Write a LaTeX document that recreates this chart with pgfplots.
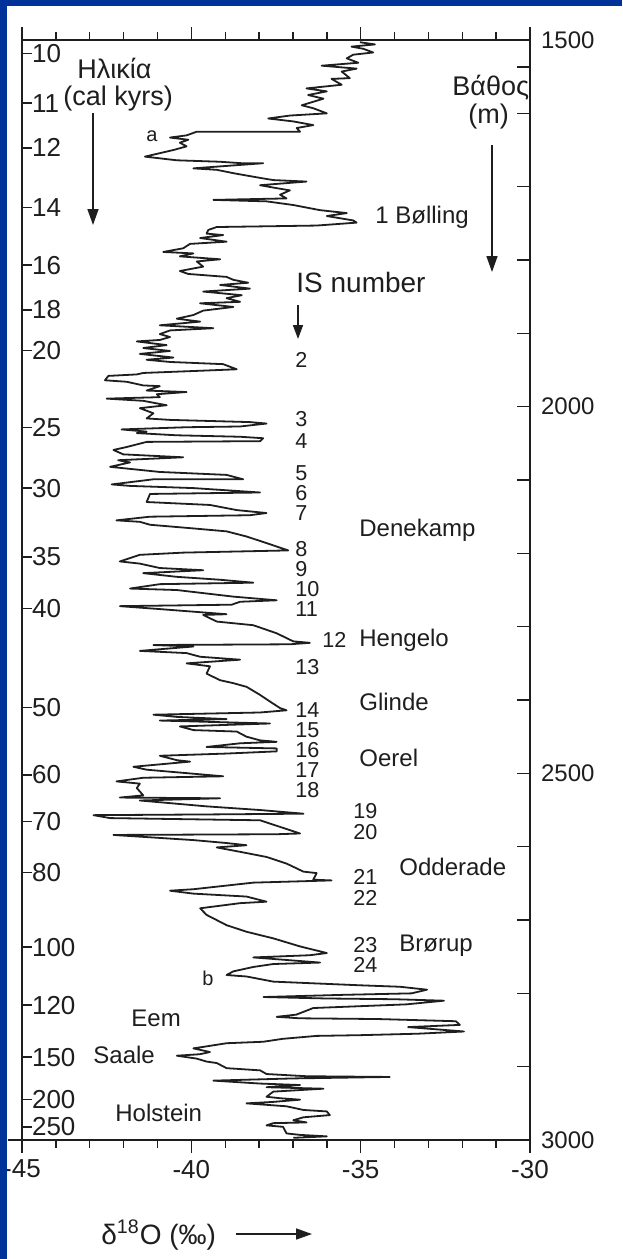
\documentclass[border=0pt]{standalone}
\usepackage{fontspec}
\setmainfont{Liberation Sans}
\usepackage{pgfplots}
\pgfplotsset{compat=1.18}
\usetikzlibrary{arrows.meta}
\definecolor{slideblue}{HTML}{003399}
\definecolor{ink}{HTML}{1E1E1E}
\newcommand\labfont{\fontsize{12}{14}\selectfont}
\newcommand\numfont{\fontsize{10.8}{12}\selectfont}
\newcommand\ttlfont{\fontsize{13.5}{16}\selectfont}

\begin{document}
\begin{tikzpicture}
\fill[white] (0,0) rectangle (311pt,-629.5pt);
\path[use as bounding box] (0,0) rectangle (311pt,-629.5pt);

% depth axis (right) and delta-18O axis (bottom)
\begin{axis}[
    at={(11pt,-570pt)}, anchor=south west,
    width=254pt, height=550pt, scale only axis,
    xmin=-45, xmax=-30, ymin=1500, ymax=3000, y dir=reverse,
    axis line style={ink, line width=0.7pt},
    every tick/.style={ink, line width=0.7pt},
    xtick={-45,-40,-35,-30}, xticklabels={-45,-40,-35,-30},
    minor xtick={-44,-43,-42,-41,-39,-38,-37,-36,-34,-33,-32,-31},
    xtick pos=both, xtick align=outside,
    ytick={1500,1537,1600,1700,1800,1900,2000,2100,2200,2300,2400,2500,2600,2700,2800,2900,3000},
    yticklabels={1500,,,,,,2000,,,,,2500,,,,,3000},
    ytick pos=right, yticklabel pos=right, ytick align=inside,
    major tick length=6.5pt, minor tick length=4pt,
    xticklabel style={font=\fontsize{13}{15}\selectfont, text=ink},
    yticklabel style={font=\fontsize{12}{14}\selectfont, text=ink, anchor=west, xshift=2pt},
]
\addplot[ink, line width=0.9pt, line join=round] coordinates {
(-35.02,1503) (-34.58,1506) (-35.27,1509) (-34.92,1512) (-34.63,1517) (-35.22,1520)
(-35.41,1525) (-35.07,1531) (-36.15,1535) (-35.12,1539) (-35.56,1543) (-35.32,1552)
(-35.86,1553) (-35.56,1561) (-36.60,1566) (-36.00,1570) (-36.55,1575) (-36.10,1580)
(-36.74,1589) (-36.40,1593) (-36.00,1600) (-37.09,1603) (-37.73,1607) (-36.99,1611)
(-36.40,1616) (-36.89,1620) (-36.79,1625) (-39.84,1625) (-40.14,1630) (-40.63,1633)
(-40.09,1636) (-40.34,1640) (-40.14,1645) (-40.53,1650) (-41.37,1659) (-40.43,1664)
(-39.15,1666) (-38.51,1668) (-37.88,1668) (-38.76,1671) (-39.94,1675) (-39.25,1677)
(-38.71,1682) (-37.97,1688) (-37.58,1691) (-36.60,1693) (-37.97,1698) (-37.48,1702)
(-37.09,1705) (-37.38,1711) (-37.19,1716) (-39.35,1718) (-37.78,1720)
(-36.99,1725) (-36.20,1732) (-35.41,1736) (-36.00,1740) (-35.22,1746) (-35.12,1749)
(-36.30,1753) (-39.25,1755) (-39.50,1759) (-39.55,1764) (-39.06,1766) (-39.74,1770)
(-38.96,1775) (-40.04,1778) (-40.24,1784) (-40.83,1789) (-39.94,1791) (-40.34,1795)
(-39.15,1799) (-39.84,1802) (-39.65,1809) (-40.34,1815) (-40.09,1819) (-38.96,1823)
(-38.76,1827) (-38.32,1831) (-39.15,1834) (-38.27,1839) (-39.65,1843) (-38.51,1848)
(-38.96,1852) (-38.56,1857) (-39.74,1859) (-38.76,1864) (-39.65,1869) (-39.94,1875)
(-40.43,1880) (-39.74,1884) (-40.93,1889) (-39.35,1893) (-40.63,1896) (-40.93,1901)
(-40.63,1905) (-40.93,1909) (-41.61,1911) (-40.73,1916) (-41.42,1920) (-40.63,1924)
(-41.52,1928) (-40.53,1933) (-41.32,1936)
(-40.63,1939) (-39.06,1942) (-38.66,1949) (-39.74,1951) (-41.42,1954) (-41.61,1956)
(-42.45,1958) (-42.55,1964) (-41.91,1966) (-41.42,1971) (-40.93,1972) (-41.32,1978)
(-40.14,1980) (-41.02,1983) (-40.93,1987) (-42.50,1989) (-41.42,1992) (-40.73,1998)
(-41.52,2002) (-41.12,2009) (-41.32,2016) (-40.63,2018) (-38.27,2021) (-37.78,2023)
(-38.56,2027) (-40.14,2028) (-42.06,2031) (-41.32,2034) (-41.61,2036) (-40.43,2039)
(-38.56,2041) (-37.88,2043) (-37.97,2047) (-41.32,2048) (-41.91,2055) (-42.30,2059)
(-42.01,2065) (-40.24,2069) (-42.16,2073) (-41.81,2076) (-42.40,2082) (-40.93,2089)
(-38.96,2093) (-38.47,2099) (-41.12,2099) (-42.35,2106) (-41.81,2108) (-39.94,2111)
(-37.97,2117) (-41.22,2119) (-41.32,2130) (-39.45,2134) (-38.66,2141) (-37.78,2145)
(-38.27,2148) (-41.22,2150) (-42.21,2155) (-41.52,2157) (-41.22,2161)
(-39.94,2166) (-38.96,2170) (-38.37,2177) (-37.78,2186) (-37.14,2196) (-40.24,2199)
(-41.52,2202) (-42.11,2211) (-41.52,2214) (-40.93,2220) (-39.65,2223) (-41.42,2227)
(-40.43,2232) (-39.15,2236) (-38.17,2240) (-40.93,2242) (-41.81,2248) (-40.43,2250)
(-38.76,2259) (-37.48,2264) (-38.56,2266) (-38.81,2270) (-42.11,2272) (-40.93,2276)
(-38.96,2283) (-39.65,2284) (-39.25,2293) (-38.17,2298) (-37.48,2309) (-36.99,2320)
(-36.50,2322) (-37.09,2324) (-41.12,2325) (-39.94,2327) (-41.52,2333) (-40.14,2336)
(-39.74,2341) (-38.56,2345) (-40.14,2350) (-39.45,2354) (-39.55,2364) (-39.15,2373)
(-38.76,2377) (-38.37,2382) (-37.97,2393) (-37.68,2402) (-37.38,2411) (-37.19,2414)
(-37.97,2417) (-41.12,2420) (-40.43,2423) (-38.96,2426) (-40.93,2428) (-37.68,2432)
(-40.34,2436) (-39.94,2441) (-38.66,2443) (-38.37,2450) (-37.97,2455) (-37.48,2457)
(-38.56,2459) (-39.55,2464) (-37.48,2466) (-37.48,2470) (-38.96,2473) (-40.93,2476)
(-40.43,2482) (-40.04,2484) (-41.71,2491) (-41.32,2495) (-39.06,2504) (-41.42,2506)
(-42.21,2511) (-41.52,2514) (-41.61,2520) (-41.42,2530) (-42.11,2533) (-39.15,2534)
(-41.52,2537) (-39.55,2545) (-37.97,2550) (-36.69,2555) (-39.45,2556) (-42.89,2557)
(-42.40,2561) (-37.97,2564) (-37.38,2573) (-36.79,2582) (-37.48,2583) (-42.30,2584)
(-39.94,2591) (-38.96,2595) (-38.37,2598)
(-39.25,2601) (-38.56,2607) (-37.78,2614) (-37.19,2623) (-36.69,2634) (-36.30,2636)
(-36.40,2645) (-35.86,2646) (-38.17,2649) (-39.94,2658) (-40.63,2660) (-39.94,2664)
(-38.37,2668) (-37.78,2675) (-38.56,2677) (-39.74,2684) (-39.55,2693) (-38.96,2707)
(-38.37,2716) (-37.58,2725) (-36.79,2736) (-36.00,2745) (-36.50,2748) (-38.17,2751)
(-36.20,2758) (-37.58,2760) (-38.17,2764) (-38.76,2770) (-38.96,2775) (-38.37,2777)
(-37.58,2784) (-35.02,2789) (-33.84,2791)
(-33.04,2795) (-33.50,2800) (-35.50,2802) (-37.87,2805) (-36.00,2807) (-34.00,2808)
(-32.54,2810) (-33.65,2815) (-36.40,2820) (-36.90,2829) (-37.48,2832) (-36.80,2834)
(-34.50,2835) (-32.19,2838) (-32.07,2843) (-33.60,2846) (-31.95,2852) (-33.30,2855)
(-35.00,2857) (-36.30,2858) (-37.30,2862)
(-37.88,2866) (-38.96,2868) (-39.65,2873) (-39.94,2875) (-39.45,2880) (-39.75,2883)
(-40.43,2885) (-39.84,2889) (-39.55,2893) (-39.25,2895) (-38.96,2902) (-37.97,2905)
(-37.78,2910) (-36.60,2913) (-34.14,2914) (-36.99,2916) (-39.35,2919) (-37.97,2923)
(-36.79,2925) (-37.78,2928) (-36.10,2930) (-37.58,2934) (-37.78,2941) (-37.38,2943)
(-36.79,2945) (-37.58,2948) (-38.37,2950) (-37.19,2954) (-36.69,2959) (-36.00,2961)
(-35.91,2966) (-36.69,2969) (-36.99,2973) (-36.60,2976) (-37.58,2977) (-37.78,2980)
(-37.29,2982) (-37.19,2991) (-36.79,2993) (-36.00,2995) (-36.99,2997)
};
\end{axis}

% age axis (left), ticks placed at the depth of each age
\begin{axis}[
    at={(11pt,-570pt)}, anchor=south west,
    width=254pt, height=550pt, scale only axis,
    xmin=-45, xmax=-30, ymin=1500, ymax=3000, y dir=reverse,
    hide x axis, axis y line*=left,
    axis line style={ink, line width=0.7pt},
    every tick/.style={ink, line width=0.7pt},
    ytick={1518,1586,1647,1728,1807,1868,1923,2028,2111,2205,2275,2410,2502,2566,2635,2737,2816,2887,2945,2982},
    yticklabels={10,11,12,14,16,18,20,25,30,35,40,50,60,70,80,100,120,150,200,250},
    ytick align=inside, major tick length=5pt,
    yticklabel style={font=\fontsize{13}{15}\selectfont, text=ink, anchor=west, xshift=1.5pt},
]
\addplot[draw=none] coordinates {(-40,2000)};
\end{axis}

\begin{scope}[x=0.5pt, y=-0.5pt, every node/.style={inner sep=0pt, anchor=west, text=ink}]
\draw[ink, line width=0.7pt] (8,1140) -- (22,1140);
\node[font=\ttlfont] at (77,68) {Ηλικία};
\node[font=\ttlfont] at (63,99) {(cal kyrs)};
\node[font=\ttlfont] at (452,88) {Βάθος};
\node[font=\ttlfont] at (468,117) {(m)};
\node[font=\fontsize{10}{12}\selectfont] at (146,136) {a};
\node[font=\fontsize{10}{12}\selectfont] at (202,978) {b};
\node[font=\labfont] at (375,217) {1 Bølling};
\node[font=\fontsize{14}{16}\selectfont] at (296,282) {IS number};
\node[font=\labfont] at (359,530) {Denekamp};
\node[font=\labfont] at (359,640) {Hengelo};
\node[font=\labfont] at (359,702) {Glinde};
\node[font=\labfont] at (359,758) {Oerel};
\node[font=\labfont] at (399,867) {Odderade};
\node[font=\labfont] at (399,946) {Brørup};
\node[font=\labfont] at (131,1018) {Eem};
\node[font=\labfont] at (93,1055) {Saale};
\node[font=\labfont] at (115,1113) {Holstein};
\node[font=\numfont] at (295,360) {2};
\node[font=\numfont] at (295,419) {3};
\node[font=\numfont] at (295,441) {4};
\node[font=\numfont] at (295,473) {5};
\node[font=\numfont] at (295,493) {6};
\node[font=\numfont] at (295,513) {7};
\node[font=\numfont] at (295,549) {8};
\node[font=\numfont] at (295,569) {9};
\node[font=\numfont] at (295,589) {10};
\node[font=\numfont] at (295,609) {11};
\node[font=\numfont] at (322,640) {12};
\node[font=\numfont] at (295,667) {13};
\node[font=\numfont] at (295,710) {14};
\node[font=\numfont] at (295,730) {15};
\node[font=\numfont] at (295,750) {16};
\node[font=\numfont] at (295,770) {17};
\node[font=\numfont] at (295,790) {18};
\node[font=\numfont] at (353,811) {19};
\node[font=\numfont] at (353,832) {20};
\node[font=\numfont] at (353,877) {21};
\node[font=\numfont] at (353,898) {22};
\node[font=\numfont] at (353,945) {23};
\node[font=\numfont] at (353,965) {24};
\node[font=\fontsize{14}{16}\selectfont] at (101,1235) {δ\textsuperscript{18}O (‰)};
\draw[ink, line width=0.8pt, -{Triangle[length=8pt,width=5.5pt]}] (93,113) -- (93,225);
\draw[ink, line width=0.8pt, -{Triangle[length=8pt,width=5.5pt]}] (492,145) -- (492,272);
\draw[ink, line width=0.8pt, -{Triangle[length=7pt,width=5pt]}] (298,305) -- (298,339);
\draw[ink, line width=0.8pt, -{Triangle[length=8pt,width=5.5pt]}] (236,1234) -- (312,1234);
\fill[slideblue] (0,0) rectangle (622,6);
\fill[slideblue] (0,0) rectangle (7,1259);
\end{scope}
\end{tikzpicture}
\end{document}
